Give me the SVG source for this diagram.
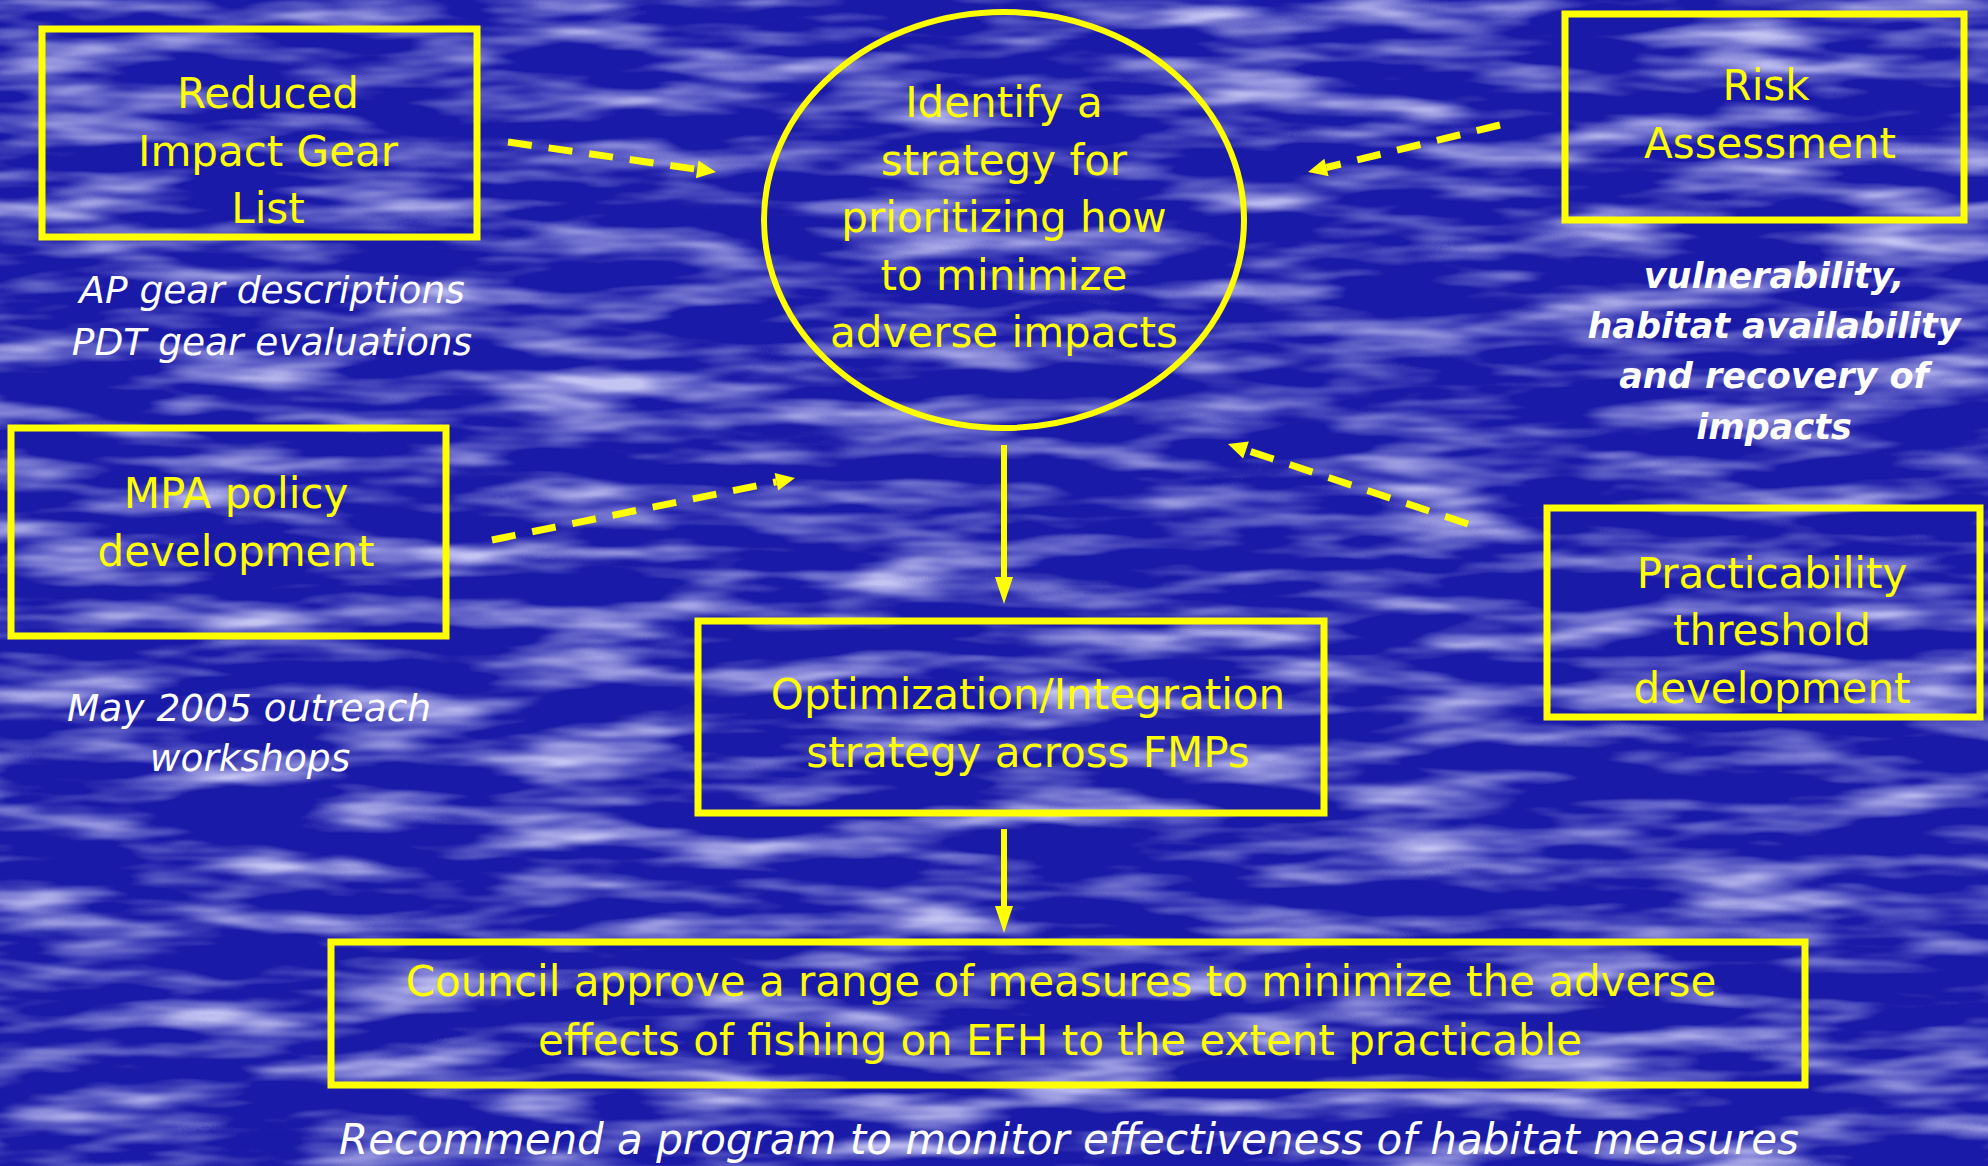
<svg xmlns="http://www.w3.org/2000/svg" width="1988" height="1166" viewBox="0 0 1988 1166">
<style>
.box{fill:none;stroke:#ffff00;stroke-width:7}
.lbl{font-family:"DejaVu Sans","Verdana",sans-serif;font-size:42px;fill:#ffff00;text-anchor:middle}
.note{font-family:"DejaVu Sans","Verdana",sans-serif;font-size:37.5px;font-style:italic;fill:#ffffff;text-anchor:middle}
.bnote{font-family:"DejaVu Sans","Verdana",sans-serif;font-size:35px;font-style:italic;font-weight:bold;fill:#ffffff;text-anchor:middle}
.dash{fill:none;stroke:#ffff00;stroke-width:7;stroke-dasharray:24 17;marker-end:url(#dhead)}
.solid{fill:none;stroke:#ffff00;stroke-width:6;marker-end:url(#shead)}
</style>
<defs>
<filter id="water" x="0" y="0" width="100%" height="100%" filterUnits="userSpaceOnUse">
<feTurbulence type="fractalNoise" baseFrequency="0.006 0.035" numOctaves="3" seed="7" result="n"/>
<feColorMatrix in="n" type="matrix" values="0 0 0 0 0.55  0 0 0 0 0.55  0 0 0 0 0.9  2.4 0 0 0 -1.05"/>
</filter>
<marker id="dhead" markerUnits="userSpaceOnUse" markerWidth="20" markerHeight="18" refX="0" refY="9" orient="auto" overflow="visible">
<path d="M0,0 L19,9 L0,18 Z" fill="#ffff00"/>
</marker>
<marker id="shead" markerUnits="userSpaceOnUse" markerWidth="28" markerHeight="18" refX="0" refY="9" orient="auto" overflow="visible">
<path d="M0,0 L27,9 L0,18 Z" fill="#ffff00"/>
</marker>
</defs>
<rect x="0" y="0" width="1988" height="1166" fill="#1a1aa8"/>
<rect x="0" y="0" width="1988" height="1166" fill="#ffffff" filter="url(#water)"/>

<g id="connectors">
<line class="dash" x1="508" y1="142" x2="697.2" y2="169.3"/>
<line class="dash" x1="492" y1="540" x2="776.4" y2="481.8"/>
<line class="dash" x1="1500" y1="125" x2="1326.5" y2="167.5"/>
<line class="dash" x1="1468" y1="524" x2="1246" y2="450"/>
<line class="solid" x1="1004" y1="445" x2="1004" y2="577"/>
<line class="solid" x1="1004" y1="829" x2="1004" y2="906"/>
</g>

<g id="node-gear">
<rect class="box" x="42" y="29" width="435" height="208"/>
<text class="lbl" x="268" y="108">Reduced</text>
<text class="lbl" x="268" y="166">Impact Gear</text>
<text class="lbl" x="268" y="223">List</text>
</g>
<g id="note-gear">
<text class="note" x="272" y="303">AP gear descriptions</text>
<text class="note" x="272" y="355">PDT gear evaluations</text>
</g>

<g id="node-strategy">
<ellipse cx="1004" cy="220" rx="240" ry="208" fill="none" stroke="#ffff00" stroke-width="6"/>
<text class="lbl" x="1004" y="117">Identify a</text>
<text class="lbl" x="1004" y="175">strategy for</text>
<text class="lbl" x="1004" y="232">prioritizing how</text>
<text class="lbl" x="1004" y="290">to minimize</text>
<text class="lbl" x="1004" y="347">adverse impacts</text>
</g>

<g id="node-risk">
<rect class="box" x="1565" y="14" width="399" height="206"/>
<text class="lbl" x="1766" y="100">Risk</text>
<text class="lbl" x="1770" y="158">Assessment</text>
</g>
<g id="note-risk">
<text class="bnote" x="1774" y="288">vulnerability,</text>
<text class="bnote" x="1774" y="338">habitat availability</text>
<text class="bnote" x="1774" y="388">and recovery of</text>
<text class="bnote" x="1774" y="439">impacts</text>
</g>

<g id="node-mpa">
<rect class="box" x="11" y="428" width="435" height="208"/>
<text class="lbl" x="236" y="508">MPA policy</text>
<text class="lbl" x="236" y="566">development</text>
</g>
<g id="note-mpa">
<text class="note" x="249" y="721">May 2005 outreach</text>
<text class="note" x="250" y="771">workshops</text>
</g>

<g id="node-practicability">
<rect class="box" x="1547" y="508" width="433" height="209"/>
<text class="lbl" x="1772" y="588">Practicability</text>
<text class="lbl" x="1772" y="645">threshold</text>
<text class="lbl" x="1772" y="703">development</text>
</g>

<g id="node-optimization">
<rect class="box" x="698" y="621" width="626" height="192"/>
<text class="lbl" x="1028" y="709">Optimization/Integration</text>
<text class="lbl" x="1028" y="767">strategy across FMPs</text>
</g>

<g id="node-council">
<rect class="box" x="331" y="942" width="1474" height="143"/>
<text class="lbl" x="1061" y="996">Council approve a range of measures to minimize the adverse</text>
<text class="lbl" x="1060" y="1055">effects of fishing on EFH to the extent practicable</text>
</g>

<g id="note-council">
<text class="note" style="font-size:42px" x="1069" y="1154">Recommend a program to monitor effectiveness of habitat measures</text>
</g>
</svg>
